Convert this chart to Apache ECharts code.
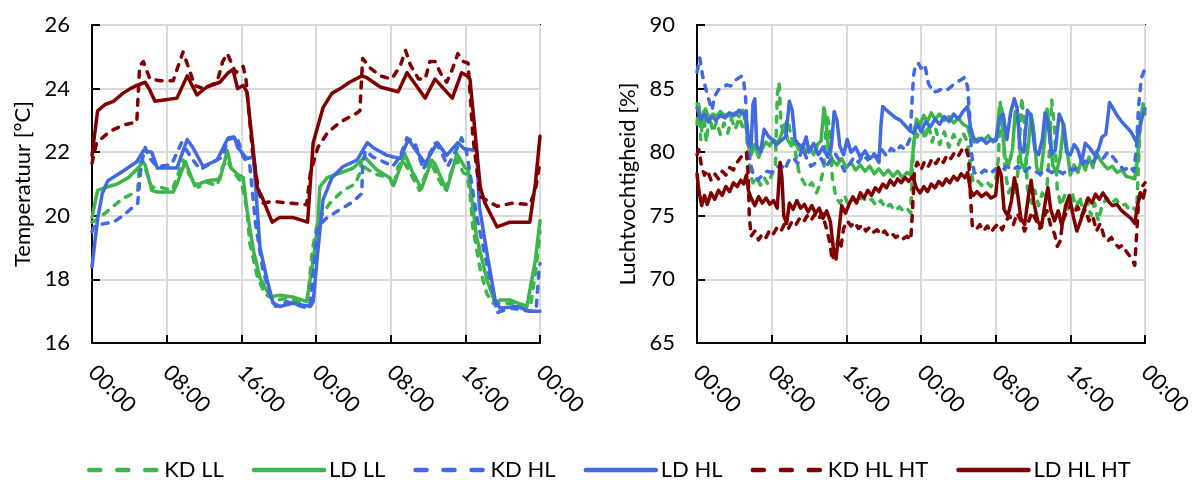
<!DOCTYPE html>
<html>
<head>
<meta charset="utf-8">
<script src="https://cdn.jsdelivr.net/npm/echarts@6/dist/echarts.min.js"></script>
<style>
  html, body { margin: 0; padding: 0; background: #fff; }
  #chart { width: 1197px; height: 480px; }
</style>
</head>
<body>
<div id="chart"></div>
<script>
// tick labels along both time axes (hours 0..48, every 8 h)
const timeLabels = ['00:00', '08:00', '16:00', '00:00', '08:00', '16:00', '00:00']

const names = ['KD LL', 'LD LL', 'KD HL', 'LD HL', 'KD HL HT', 'LD HL HT']

// temperature [°C], pairs of [hour, value]
const tKdLl = [[0,19.8],[0.6,19.9],[1.9,20.2],[3.3,20.55],[4.4,20.7],[4.9,20.8],[5.1,21.65],[5.4,21.75],[6.4,20.9],[7.3,20.9],[8.6,20.8],[9.4,21.45],[9.75,21.75],[10.4,21.3],[11.4,20.9],[12.3,21.05],[13.4,20.95],[14,21.55],[14.5,21.75],[15.1,21.4],[15.9,21.1],[16.2,20.8],[16.6,20.2],[16.9,19.15],[17.7,18.1],[18.5,17.55],[19.6,17.35],[20.9,17.4],[22.6,17.25],[23.1,17.35],[23.6,18.9],[24.2,19.85],[25.5,20.4],[26.9,20.8],[28.2,21.0],[28.7,21.35],[28.9,21.75],[29.3,21.5],[30.5,21.3],[31.9,21.2],[32.3,20.9],[32.8,21.55],[33.3,21.75],[34.0,21.4],[35.1,20.8],[35.8,21.35],[36.2,21.75],[36.9,21.3],[37.8,20.8],[38.6,21.45],[39.1,21.75],[39.8,21.35],[40.2,21.3],[40.5,20.7],[40.8,19.65],[41.6,18.3],[42.3,17.55],[43,17.25],[45.1,17.25],[46.6,17.1],[47.0,17.2],[47.6,18.4],[48,19.5]]
const tLdLl = [[0,19.95],[0.6,20.8],[1.6,20.9],[2.7,21.0],[3.9,21.2],[5.1,21.55],[5.4,21.7],[5.7,21.6],[6.4,20.8],[7,20.75],[8.7,20.75],[9.1,21.0],[10,21.7],[11,20.95],[12.3,21.1],[13.7,21.15],[14.2,21.7],[14.5,22.05],[14.9,21.5],[15.6,21.3],[16.2,21.2],[16.6,20.2],[17.3,18.9],[18,18.05],[19.1,17.45],[20.1,17.5],[21.5,17.45],[23,17.3],[23.7,18.6],[24.2,19.75],[24.4,20.9],[25.2,21.2],[26.6,21.35],[28,21.5],[28.9,21.75],[29.2,21.85],[30.5,21.45],[31.9,21.2],[32.3,20.95],[33.3,21.75],[33.5,21.95],[34.3,21.4],[35.3,20.85],[36.4,21.75],[36.8,21.6],[38,20.8],[38.9,21.75],[39.1,21.95],[40,21.5],[40.3,21.45],[41.2,19.35],[42.3,18.0],[43.2,17.25],[43.7,17.35],[44.8,17.35],[46.6,17.15],[47.5,18.6],[48,19.85]]
const tKdHl = [[0,19.5],[0.2,19.65],[1.2,19.75],[2.3,19.8],[3.3,20.0],[4.9,20.4],[5.1,21.1],[5.3,21.65],[5.7,22.15],[6.2,21.8],[7.0,21.55],[8.5,21.6],[9.6,22.3],[10.7,21.8],[11.6,21.45],[13,21.7],[14,21.85],[14.6,22.45],[15.5,22.5],[16.2,21.85],[16.9,21.6],[17.5,19.8],[18.3,18.3],[19.2,17.4],[19.7,17.15],[20.9,17.3],[23,17.1],[23.4,17.25],[23.9,18.85],[24.2,19.65],[25.2,19.95],[26.6,20.2],[28,20.45],[28.9,20.7],[29.0,21.55],[29.3,22.05],[30.1,21.85],[31.6,21.65],[32.2,21.55],[33,21.85],[33.75,22.45],[34.6,22.3],[35.5,21.45],[36.1,21.9],[36.75,22.3],[37.3,22.1],[38.1,21.55],[39,22.05],[39.6,22.45],[40.1,22.05],[40.5,21.35],[41.2,20.0],[42.3,18.5],[43.4,16.95],[44.8,17.1],[46.9,17.0],[47.6,17.1],[47.9,18.3],[48,18.5]]
const tLdHl = [[0,18.4],[0.6,19.9],[1.1,20.7],[1.7,21.1],[3.3,21.4],[4.8,21.7],[5.5,22.05],[6.4,22.0],[7,21.5],[9.1,21.5],[10.2,22.4],[10.8,22.15],[11.9,21.55],[13.4,21.75],[14.5,22.4],[15.3,22.45],[15.6,22.15],[16.6,21.8],[17.3,21.85],[18,19.0],[18.75,18.0],[19.4,17.25],[20.1,17.15],[21.5,17.25],[23.4,17.15],[23.7,17.3],[24.2,18.9],[24.75,20.5],[25.7,21.2],[26.9,21.55],[28.4,21.75],[29.5,22.3],[30.1,22.15],[31.6,21.9],[33,21.8],[33.9,22.4],[34.6,22.1],[35.7,21.65],[37,22.3],[38,21.9],[39.2,22.3],[39.9,22.1],[41.2,22.05],[41.5,20.3],[42.3,18.85],[43.2,17.35],[43.7,17.1],[45.5,17.15],[46.9,17.0],[48,17.0]]
const tKdHlHt = [[0,21.65],[0.5,22.3],[1.9,22.65],[3.3,22.85],[4.8,22.95],[5.1,24.7],[5.5,24.85],[6.2,24.3],[7.3,24.25],[8.7,24.25],[9.4,24.85],[9.75,25.15],[10.3,24.7],[11.0,24.1],[11.9,24.0],[13.4,24.2],[14.0,24.85],[14.5,25.1],[14.8,24.9],[15.4,24.5],[16.2,24.7],[16.5,24.3],[17.2,22.0],[17.8,20.9],[18.2,20.4],[19.4,20.45],[21.2,20.4],[23,20.35],[23.4,21.35],[24.2,22.15],[25.2,22.6],[26.6,22.95],[28.2,23.2],[28.7,23.3],[29.0,24.95],[29.8,24.65],[30.9,24.4],[32.1,24.3],[33,24.7],[33.6,25.2],[34.1,24.75],[35,24.3],[35.7,24.3],[36.2,24.85],[36.75,24.85],[37.5,24.4],[38,24.2],[38.6,24.6],[39.2,25.1],[39.8,24.85],[40.3,24.8],[40.8,22.5],[41.6,20.6],[43.4,20.3],[45.1,20.4],[46.9,20.35],[47.5,20.8],[48,21.7]]
const tLdHlHt = [[0,21.9],[0.6,23.3],[1.4,23.5],[2.3,23.6],[3.3,23.85],[4.1,24.0],[4.8,24.1],[5.7,24.2],[6.2,23.95],[6.75,23.6],[9.1,23.7],[10.2,24.4],[11.25,23.8],[12.3,24.05],[13.7,24.2],[14.6,24.5],[15.1,24.6],[15.6,24.0],[16.2,24.1],[16.6,23.9],[17.7,20.9],[18.2,20.6],[19.3,19.8],[20.1,19.95],[21.5,19.95],[23.1,19.8],[23.7,22.3],[24.75,23.4],[25.7,23.85],[26.6,24.0],[27.6,24.2],[28.9,24.4],[29.4,24.35],[30.9,24.05],[32.8,23.9],[33.75,24.5],[34.6,24.15],[35.7,23.7],[36.75,24.3],[38.6,23.7],[39.6,24.5],[40.2,24.4],[40.5,24.3],[41.6,20.9],[42.1,20.4],[43.4,19.65],[44.8,19.8],[46.9,19.8],[47.5,21.0],[48,22.5]]

// relative humidity [%], pairs of [hour, value]
const hKdLl = [[0,82.2],[0.2,84.0],[0.4,81.0],[0.7,83.2],[1.0,80.8],[1.3,82.9],[1.7,81.6],[2.1,82.4],[2.5,81.4],[2.9,82.3],[3.3,81.5],[3.7,82.6],[4.1,81.8],[4.5,82.7],[4.9,82.0],[5.2,83.0],[5.4,80.5],[5.7,78.3],[6.0,77.6],[6.4,78.0],[6.8,77.4],[7.2,78.0],[7.6,77.5],[8.0,78.2],[8.4,79.0],[8.6,84.5],[8.8,85.5],[9.0,82.2],[9.3,81.5],[9.7,82.6],[10.1,81.2],[10.5,80.2],[10.9,78.5],[11.3,77.8],[11.8,77.2],[12.3,77.6],[12.8,76.8],[13.2,77.5],[13.6,78.8],[13.9,83.0],[14.2,82.0],[14.5,78.0],[14.9,76.4],[15.3,76.0],[15.8,76.6],[16.2,75.9],[16.7,76.4],[17.2,76.0],[17.7,76.5],[18.2,76.1],[18.7,76.3],[19.2,75.8],[19.7,76.2],[20.2,75.6],[20.7,75.9],[21.2,75.4],[21.7,75.7],[22.2,75.3],[22.6,75.5],[22.9,75.2],[23.1,79.0],[23.3,82.0],[23.6,81.2],[24.0,82.4],[24.4,81.0],[24.8,82.2],[25.2,80.8],[25.6,81.8],[26.0,80.6],[26.5,81.6],[27.0,80.4],[27.5,81.4],[28.0,80.6],[28.5,81.5],[29.0,80.8],[29.3,78.8],[29.6,77.6],[30.0,77.8],[30.5,77.4],[31.0,77.7],[31.5,77.3],[32.0,77.9],[32.3,79.5],[32.5,84.0],[32.7,83.2],[33.0,78.6],[33.4,76.8],[33.8,77.5],[34.2,76.6],[34.5,80.0],[34.8,84.3],[35.1,82.0],[35.4,77.2],[35.8,76.0],[36.2,77.0],[36.6,75.8],[37.0,76.8],[37.4,76.2],[37.8,80.5],[38.0,84.1],[38.3,82.0],[38.6,77.0],[39.0,75.8],[39.4,76.6],[39.8,75.4],[40.2,76.8],[40.6,75.6],[41.0,76.5],[41.4,75.2],[41.8,76.3],[42.2,75.0],[42.6,76.0],[43.0,74.6],[43.4,75.8],[43.9,76.4],[44.4,76.0],[44.9,76.3],[45.4,75.8],[45.9,75.9],[46.4,75.4],[46.8,75.6],[47.1,75.3],[47.3,79.0],[47.5,82.5],[47.8,83.0],[48,82.4]]
const hLdLl = [[0,83.8],[0.3,83.0],[0.6,82.0],[0.9,83.4],[1.3,82.6],[1.7,83.0],[2.1,82.8],[2.5,83.2],[2.9,82.9],[3.3,83.0],[3.7,82.7],[4.1,83.1],[4.5,82.8],[4.9,83.3],[5.2,82.5],[5.5,80.5],[5.8,79.8],[6.2,80.6],[6.6,79.6],[7.0,80.3],[7.4,80.8],[7.8,80.5],[8.2,81.0],[8.6,80.7],[9.0,81.3],[9.4,82.2],[9.7,81.0],[10.1,80.5],[10.5,80.8],[10.9,80.2],[11.3,80.6],[11.7,80.0],[12.1,80.4],[12.5,79.8],[12.9,80.6],[13.3,80.9],[13.6,83.5],[13.8,82.6],[14.1,80.2],[14.5,79.4],[15.0,79.0],[15.5,79.5],[16.0,78.8],[16.5,79.2],[17.0,78.6],[17.5,79.0],[18.0,78.5],[18.5,78.9],[19.0,78.3],[19.5,78.7],[20.0,78.2],[20.5,78.6],[21.0,78.1],[21.5,78.5],[22.0,78.0],[22.5,78.4],[22.9,78.2],[23.2,80.5],[23.5,82.6],[23.9,82.2],[24.3,82.9],[24.7,82.4],[25.1,83.1],[25.5,82.6],[26.0,83.0],[26.5,82.5],[27.0,82.8],[27.5,82.3],[28.0,82.7],[28.5,82.2],[29.0,82.0],[29.3,81.2],[29.7,80.8],[30.2,81.1],[30.7,80.9],[31.2,81.3],[31.7,80.8],[32.1,81.0],[32.4,83.5],[32.7,82.0],[33.0,79.6],[33.4,79.0],[33.8,80.2],[34.1,83.2],[34.4,82.5],[34.7,79.2],[35.1,78.6],[35.5,80.5],[35.8,83.0],[36.1,81.6],[36.4,78.8],[36.8,78.2],[37.2,80.6],[37.5,83.4],[37.8,82.0],[38.1,79.0],[38.5,78.4],[38.9,79.6],[39.3,82.2],[39.6,80.5],[40.0,78.2],[40.4,79.0],[40.8,78.4],[41.2,79.4],[41.6,78.6],[42.0,79.6],[42.4,78.8],[42.8,80.0],[43.2,79.4],[43.6,79.0],[44.0,78.7],[44.5,78.9],[45.0,78.4],[45.5,78.6],[46.0,78.1],[46.5,78.0],[46.9,77.9],[47.2,79.5],[47.5,82.5],[47.8,83.8],[48,83.0]]
const hKdHl = [[0,86.3],[0.3,87.4],[0.6,86.0],[0.9,85.1],[1.2,84.3],[1.6,83.3],[1.9,84.4],[2.3,84.9],[2.8,85.1],[3.2,85.3],[3.6,85.2],[4.0,85.6],[4.4,85.8],[4.8,86.0],[5.0,85.6],[5.2,84.3],[5.4,81.5],[5.7,79.2],[6.0,78.3],[6.5,77.8],[7.0,78.2],[7.5,78.5],[8.0,78.4],[8.5,78.8],[9.0,79.0],[9.4,78.6],[9.8,79.3],[10.3,79.6],[10.8,79.1],[11.3,80.4],[11.7,79.6],[12.2,78.9],[12.8,79.2],[13.3,79.5],[13.8,78.8],[14.3,79.4],[14.8,79.9],[15.3,79.3],[15.8,78.5],[16.3,79.0],[16.8,79.6],[17.3,79.2],[17.8,79.8],[18.3,79.4],[18.8,80.0],[19.3,79.6],[19.8,80.2],[20.3,79.7],[20.8,80.3],[21.3,80.0],[21.8,80.5],[22.3,80.2],[22.8,81.0],[23.0,83.5],[23.2,86.0],[23.4,86.8],[23.7,87.0],[24.0,86.6],[24.4,86.9],[24.8,85.4],[25.3,84.7],[25.8,84.8],[26.3,85.0],[26.8,84.9],[27.3,85.2],[27.8,85.5],[28.3,85.7],[28.7,85.9],[29.0,85.1],[29.2,83.0],[29.4,80.0],[29.7,78.4],[30.2,78.2],[30.8,78.6],[31.4,78.3],[32.0,78.7],[32.6,78.5],[33.2,78.9],[33.8,78.6],[34.4,78.9],[35.0,78.4],[35.6,78.8],[36.2,78.5],[36.8,78.3],[37.4,78.7],[38.0,78.4],[38.6,78.6],[39.2,78.3],[39.8,78.7],[40.4,78.6],[41.0,78.9],[41.6,79.3],[42.2,79.0],[42.8,79.6],[43.4,79.4],[44.0,80.0],[44.6,79.6],[45.2,79.0],[45.8,78.6],[46.4,78.9],[46.8,78.5],[47.1,80.5],[47.3,83.5],[47.6,85.8],[47.9,86.4],[48,86.5]]
const hLdHl = [[0,83.5],[0.4,82.6],[0.8,83.0],[1.2,82.4],[1.6,82.8],[2.0,82.5],[2.5,82.9],[3.0,82.7],[3.5,83.1],[4.0,82.9],[4.5,83.3],[5.0,83.0],[5.3,82.6],[5.5,81.2],[5.8,80.4],[6.0,83.8],[6.2,84.2],[6.4,80.5],[6.8,80.0],[7.2,81.8],[7.6,81.3],[8.0,81.0],[8.5,80.6],[9.0,80.9],[9.5,81.2],[9.9,84.0],[10.2,83.3],[10.5,81.0],[10.9,80.6],[11.3,80.3],[11.7,81.2],[12.0,80.0],[12.5,80.7],[13.0,79.8],[13.5,80.4],[14.0,79.6],[14.4,80.5],[14.7,83.2],[15.0,82.5],[15.3,80.5],[15.7,79.8],[16.1,81.0],[16.5,80.0],[17.0,80.4],[17.5,79.6],[18.0,80.1],[18.5,79.5],[19.0,79.8],[19.5,79.2],[19.7,82.0],[19.9,83.6],[20.3,83.3],[20.8,83.0],[21.3,82.7],[21.8,82.5],[22.3,82.1],[22.8,81.7],[23.2,81.5],[23.6,82.2],[24.0,81.6],[24.5,82.4],[25.0,82.0],[25.5,82.6],[26.0,82.2],[26.5,82.8],[27.0,82.4],[27.5,83.0],[28.0,82.6],[28.5,83.2],[29.0,83.6],[29.3,82.0],[29.6,81.2],[30.0,80.8],[30.5,81.1],[31.0,80.7],[31.5,81.0],[32.0,80.9],[32.4,82.6],[32.8,83.0],[33.2,81.0],[33.6,83.1],[34.0,84.2],[34.3,83.5],[34.6,80.4],[35.0,80.0],[35.4,83.3],[35.8,82.8],[36.2,80.2],[36.6,79.8],[37.0,81.0],[37.3,83.1],[37.6,82.4],[38.0,79.8],[38.4,80.2],[38.8,83.0],[39.2,82.3],[39.6,80.0],[40.0,79.8],[40.4,80.6],[40.8,80.2],[41.2,79.2],[41.6,80.7],[42.0,80.4],[42.6,79.8],[43.0,80.2],[43.4,81.2],[43.8,81.4],[44.2,83.9],[44.6,83.4],[45.0,82.9],[45.5,82.4],[46.0,82.0],[46.5,81.6],[47.0,80.9],[47.4,81.7],[47.7,82.8],[48,83.4]]
const hKdHlHt = [[0,79.8],[0.2,80.2],[0.5,78.8],[0.8,78.2],[1.1,78.6],[1.5,77.8],[1.9,78.3],[2.3,77.9],[2.7,78.5],[3.1,78.2],[3.5,78.8],[3.9,78.6],[4.3,79.2],[4.7,79.6],[5.0,79.9],[5.3,80.0],[5.5,78.0],[5.6,75.0],[5.8,73.4],[6.2,73.8],[6.6,73.1],[7.0,73.6],[7.4,73.3],[7.8,73.9],[8.2,73.6],[8.6,74.1],[9.0,73.8],[9.4,74.4],[9.8,74.0],[10.2,74.6],[10.6,74.3],[11.0,74.8],[11.4,74.5],[11.8,75.0],[12.2,74.6],[12.6,75.1],[13.0,74.7],[13.4,75.2],[13.8,74.2],[14.2,73.0],[14.5,71.5],[14.8,72.2],[15.1,73.0],[15.4,72.4],[15.7,74.0],[16.1,74.6],[16.5,74.2],[16.9,74.5],[17.3,74.0],[17.7,74.3],[18.1,73.8],[18.5,74.1],[18.9,73.7],[19.3,73.9],[19.7,73.5],[20.1,73.8],[20.5,73.4],[20.9,73.6],[21.3,73.3],[21.7,73.5],[22.1,73.2],[22.5,73.4],[22.9,73.1],[23.1,75.5],[23.3,78.5],[23.6,79.2],[24.0,78.6],[24.4,79.3],[24.8,78.9],[25.2,79.5],[25.6,79.1],[26.0,79.6],[26.4,79.2],[26.8,79.8],[27.2,79.5],[27.6,80.0],[28.0,79.7],[28.4,80.2],[28.8,80.4],[29.1,79.6],[29.3,76.5],[29.5,74.2],[29.9,73.9],[30.3,74.3],[30.7,73.8],[31.1,74.2],[31.5,73.7],[31.9,74.1],[32.3,74.4],[32.7,73.9],[33.1,74.6],[33.5,75.0],[33.9,74.3],[34.3,75.2],[34.7,74.6],[35.1,73.8],[35.5,74.5],[35.9,75.3],[36.3,74.7],[36.7,74.0],[37.1,74.8],[37.5,75.4],[37.9,74.2],[38.3,73.6],[38.6,72.6],[38.9,73.0],[39.2,74.6],[39.6,75.3],[40.0,75.8],[40.4,75.2],[40.8,75.7],[41.2,75.0],[41.6,75.5],[42.0,74.6],[42.4,75.0],[42.8,73.8],[43.2,74.4],[43.6,73.4],[44.0,73.0],[44.4,73.3],[44.8,72.8],[45.2,72.5],[45.6,72.7],[46.0,72.2],[46.4,71.8],[46.7,71.5],[46.9,71.1],[47.1,73.5],[47.3,76.0],[47.6,77.2],[48,77.6]]
const hLdHlHt = [[0,78.3],[0.2,77.0],[0.5,75.8],[0.8,76.6],[1.1,75.9],[1.5,76.8],[1.9,76.3],[2.3,77.0],[2.7,76.6],[3.1,77.3],[3.5,76.9],[3.9,77.6],[4.3,77.3],[4.7,77.8],[5.0,77.5],[5.3,78.2],[5.5,77.0],[5.8,76.4],[6.2,75.8],[6.6,76.5],[7.0,76.0],[7.4,76.4],[7.8,75.9],[8.2,76.2],[8.6,75.6],[8.9,79.2],[9.1,78.0],[9.3,75.0],[9.6,74.4],[9.9,76.0],[10.3,75.5],[10.7,76.2],[11.1,75.6],[11.5,75.9],[11.9,75.3],[12.3,75.8],[12.7,75.2],[13.1,75.6],[13.5,74.8],[13.9,75.4],[14.3,74.5],[14.6,72.5],[14.9,71.6],[15.2,73.8],[15.5,75.8],[15.9,75.2],[16.3,75.9],[16.7,76.5],[17.1,76.0],[17.5,76.8],[17.9,76.4],[18.3,77.0],[18.7,76.6],[19.1,77.2],[19.5,76.9],[19.9,77.5],[20.3,77.2],[20.7,77.8],[21.1,77.4],[21.5,77.9],[21.9,77.6],[22.3,78.0],[22.7,77.7],[23.1,78.1],[23.5,77.2],[23.9,76.8],[24.3,77.3],[24.7,76.9],[25.1,77.5],[25.5,77.2],[25.9,77.7],[26.3,77.4],[26.7,77.9],[27.1,77.6],[27.5,78.1],[27.9,77.8],[28.3,78.3],[28.7,78.0],[29.0,78.4],[29.3,77.0],[29.6,76.6],[30.0,76.9],[30.5,76.5],[31.0,76.8],[31.5,76.4],[32.0,76.6],[32.3,78.8],[32.6,78.2],[32.9,75.5],[33.3,75.0],[33.7,76.2],[34.0,78.0],[34.3,77.0],[34.7,74.8],[35.1,74.3],[35.5,76.5],[35.8,77.8],[36.1,76.0],[36.5,74.6],[36.9,74.1],[37.3,76.0],[37.6,77.2],[37.9,75.5],[38.3,74.6],[38.7,75.4],[39.1,74.2],[39.5,75.8],[39.9,76.6],[40.3,75.0],[40.7,73.8],[41.1,74.6],[41.5,75.6],[41.9,76.4],[42.3,76.0],[42.7,76.7],[43.1,76.3],[43.5,76.8],[44.0,76.2],[44.5,75.8],[45.0,75.9],[45.5,75.4],[46.0,75.1],[46.5,74.8],[46.9,74.4],[47.2,75.8],[47.5,76.8],[47.8,76.4],[48,77.0]]

const colors = ['#3cb54a', '#3cb54a', '#4169e1', '#4169e1', '#800000', '#800000']
const dashed = [true, false, true, false, true, false]
const FONT = 'Lato'

const tempData = [tKdLl, tLdLl, tKdHl, tLdHl, tKdHlHt, tLdHlHt]
const humData = [hKdLl, hLdLl, hKdHl, hLdHl, hKdHlHt, hLdHlHt]

const chart = echarts.init(document.getElementById('chart'), null, {renderer: 'canvas'})

function xAxis(gridIndex){
    return {
        type: 'value',
        gridIndex: gridIndex,
        min: 0,
        max: 48,
        interval: 8,
        axisLine: {lineStyle: {color: '#000', width: 2}},
        axisTick: {inside: true, length: 8, lineStyle: {color: '#000', width: 2}},
        axisLabel: {
            rotate: -45,
            margin: 26,
            color: '#000',
            fontFamily: FONT,
            fontSize: 22,
            formatter: v => timeLabels[Math.round(v / 8)]
        },
        splitLine: {show: true, lineStyle: {color: '#d9d9d9', width: 2}}
    }
}

function yAxis(gridIndex, name, min, max, interval){
    return {
        type: 'value',
        gridIndex: gridIndex,
        name: name,
        nameLocation: 'middle',
        nameGap: 58,
        nameTextStyle: {color: '#000', fontFamily: FONT, fontSize: 22},
        min: min,
        max: max,
        interval: interval,
        axisLine: {show: true, lineStyle: {color: '#000', width: 2}},
        axisTick: {show: true, inside: true, length: 8, lineStyle: {color: '#000', width: 2}},
        axisLabel: {color: '#000', fontFamily: FONT, fontSize: 22, margin: 22},
        splitLine: {show: true, lineStyle: {color: '#d9d9d9', width: 2}}
    }
}

const series = []
names.forEach((name, i) => {
    const style = {
        color: colors[i],
        width: 3.5,
        type: dashed[i] ? [6, 8] : 'solid',
        cap: 'round',
        join: 'round'
    }
    series.push({name: name, type: 'line', xAxisIndex: 0, yAxisIndex: 0, data: tempData[i],
        symbol: 'none', lineStyle: style, itemStyle: {color: colors[i]}, animation: false})
    series.push({name: name, type: 'line', xAxisIndex: 1, yAxisIndex: 1, data: humData[i],
        symbol: 'none', lineStyle: style, itemStyle: {color: colors[i]}, animation: false})
})

const option = {
    backgroundColor: '#fff',
    animation: false,
    grid: [
        {left: 92, top: 25, width: 448, height: 318, show: true, borderColor: '#000', borderWidth: 2},
        {left: 697, top: 25, width: 448, height: 318, show: true, borderColor: '#000', borderWidth: 2}
    ],
    xAxis: [xAxis(0), xAxis(1)],
    yAxis: [
        yAxis(0, 'Temperatuur [°C]', 16, 26, 2),
        yAxis(1, 'Luchtvochtigheid [%]', 65, 90, 5)
    ],
    legend: {
        left: 82,
        top: 454,
        itemWidth: 70,
        itemHeight: 10,
        itemGap: 28,
        textStyle: {color: '#000', fontFamily: FONT, fontSize: 22},
        data: names.map((n, i) => ({
            name: n,
            itemStyle: {opacity: 0},
            lineStyle: {width: 4.5, type: dashed[i] ? [11, 17] : 'solid', cap: 'round'}
        }))
    },
    series: series
}

chart.setOption(option)
</script>
</body>
</html>
